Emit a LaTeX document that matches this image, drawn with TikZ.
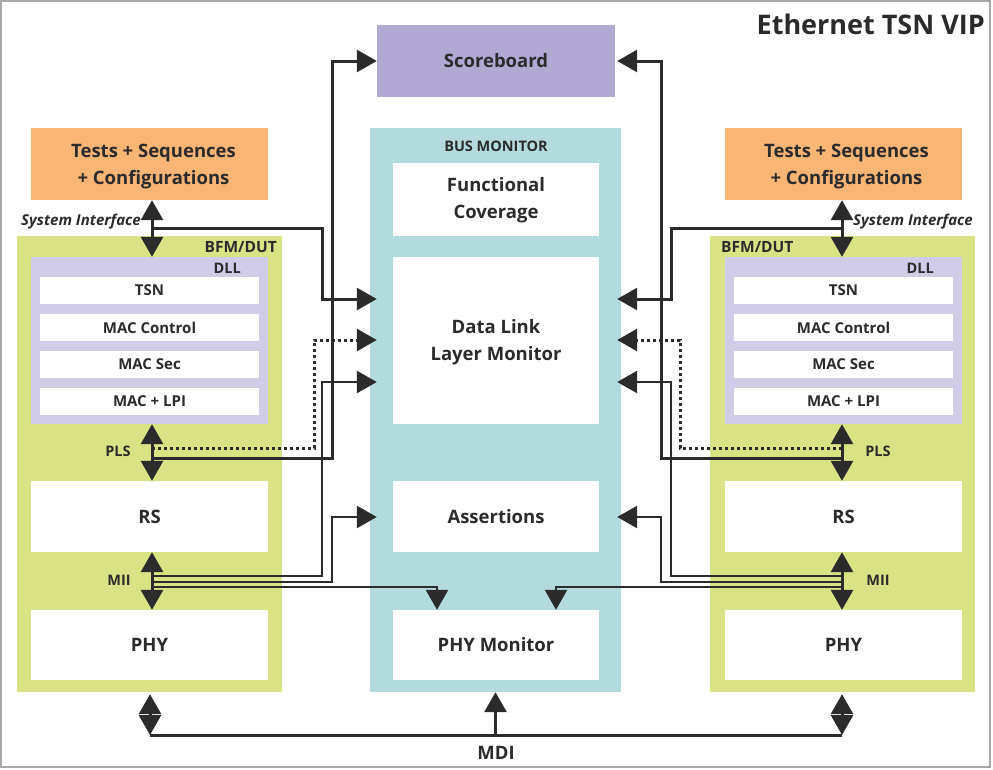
\documentclass[tikz,border=0pt]{standalone}
\usepackage{fontspec}
\setmainfont{Open Sans}
\usetikzlibrary{arrows.meta,calc}
\definecolor{ink}{HTML}{2B2B2B}
\definecolor{orng}{HTML}{F8B576}
\definecolor{sbcol}{HTML}{B1A9D4}
\definecolor{bmcol}{HTML}{B3DBDE}
\definecolor{grn}{HTML}{D9E285}
\definecolor{dllcol}{HTML}{D0CCE7}
\definecolor{framecol}{HTML}{A8A8A8}
\tikzset{
  box/.style={inner sep=0pt, draw=none, text=ink, align=center},
  ftitle/.style={font=\fontsize{27}{32}\selectfont\bfseries},
  fbig/.style={font=\fontsize{18.5}{27}\selectfont\bfseries},
  fmid/.style={font=\fontsize{18.5}{27}\selectfont\bfseries},
  fsmall/.style={font=\fontsize{15}{18}\selectfont\bfseries},
  flab/.style={font=\fontsize{14.5}{17}\selectfont\bfseries, text=ink, inner sep=0pt},
  fbfm/.style={font=\fontsize{15.5}{18}\selectfont\bfseries, text=ink, inner sep=0pt},
  fital/.style={font=\fontsize{15}{18}\selectfont\bfseries\itshape, text=ink, inner sep=0pt},
  tip/.tip={Triangle[length=20pt,width=22pt]},
  conn/.style={draw=ink, line width=3pt, -tip},
  conn2/.style={draw=ink, line width=2.6pt, -tip},
  dblarr/.style={draw=ink, line width=3pt, tip-tip},
  dotconn/.style={draw=ink, line width=3pt, dash pattern=on 3pt off 3pt, -tip},
  plain/.style={draw=ink, line width=3pt}
}
\begin{document}
\begin{tikzpicture}[x=1pt,y=-1pt]
\useasboundingbox (0,0) rectangle (993,769);
\fill[white] (0,0) rectangle (993,769);
\draw[framecol, line width=1.5pt] (1,1) rectangle (990,767);

\node[box, ftitle, anchor=east] (title) at (985,24) {Ethernet TSN VIP};

% center
\node[box, fill=sbcol, minimum width=238pt, minimum height=72pt, fbig] (sb) at (496,61) {Scoreboard};
\node[box, fill=bmcol, minimum width=251pt, minimum height=564pt] (bm) at (495.5,410) {};
\node[box, font=\fontsize{14.5}{17}\selectfont\bfseries] (bmlab) at (496,146) {BUS MONITOR};
\node[box, fill=white, minimum width=206pt, minimum height=73pt] (fc) at (496,199.5) {};
\node[box, fbig] (fct) at ([yshift=-1pt]fc.center) {Functional\\Coverage};
\node[box, fill=white, minimum width=206pt, minimum height=167pt] (dlm) at (496,340.5) {};
\node[box, fbig] (dlmt) at ([yshift=-2pt]dlm.center) {Data Link\\Layer Monitor};
\node[box, fill=white, minimum width=206pt, minimum height=71pt, fbig] (asr) at (496,516.5) {Assertions};
\node[box, fill=white, minimum width=206pt, minimum height=70pt, fbig] (phm) at (496,645) {PHY Monitor};

% left
\node[box, fill=orng, minimum width=237pt, minimum height=72pt] (tL) at (149.5,164) {};
\node[box, fmid] (tLt) at ([xshift=4pt,yshift=-3pt]tL.center) {Tests + Sequences\\+ Configurations};
\node[box, fill=grn, minimum width=265pt, minimum height=456pt] (bfmL) at (149.5,464) {};
\node[box, fill=dllcol, minimum width=237pt, minimum height=167pt] (dllL) at (149.5,340.5) {};
\node[box, fill=white, minimum width=219pt, minimum height=27pt, fsmall] (tsnL) at (149.5,290.5) {TSN};
\node[box, fill=white, minimum width=219pt, minimum height=27pt, fsmall] (mcL) at (149.5,327.5) {MAC Control};
\node[box, fill=white, minimum width=219pt, minimum height=27pt, fsmall] (msL) at (149.5,364.5) {MAC Sec};
\node[box, fill=white, minimum width=219pt, minimum height=27pt, fsmall] (mlL) at (149.5,401.5) {MAC + LPI};
\node[box, fill=white, minimum width=237pt, minimum height=71pt, fbig] (rsL) at (149.5,516.5) {RS};
\node[box, fill=white, minimum width=237pt, minimum height=70pt, fbig] (phyL) at (149.5,645) {PHY};
\node[fbfm, anchor=east] (bfmlabL) at (277,247) {BFM/DUT};
\node[flab, anchor=east] (dlllabL) at (241,268) {DLL};
\node[fital, anchor=east] (siL) at (141,222) {System Interface};
\node[flab] (plsL) at (118,451) {PLS};
\node[flab] (miiL) at (119,580) {MII};

% right
\node[box, fill=orng, minimum width=237pt, minimum height=72pt] (tR) at (843.5,164) {};
\node[box, fmid] (tRt) at ([xshift=3pt,yshift=-3pt]tR.center) {Tests + Sequences\\+ Configurations};
\node[box, fill=grn, minimum width=265pt, minimum height=456pt] (bfmR) at (842.5,464) {};
\node[box, fill=dllcol, minimum width=237pt, minimum height=167pt] (dllR) at (843.5,340.5) {};
\node[box, fill=white, minimum width=219pt, minimum height=27pt, fsmall] (tsnR) at (843.5,290.5) {TSN};
\node[box, fill=white, minimum width=219pt, minimum height=27pt, fsmall] (mcR) at (843.5,327.5) {MAC Control};
\node[box, fill=white, minimum width=219pt, minimum height=27pt, fsmall] (msR) at (843.5,364.5) {MAC Sec};
\node[box, fill=white, minimum width=219pt, minimum height=27pt, fsmall] (mlR) at (843.5,401.5) {MAC + LPI};
\node[box, fill=white, minimum width=237pt, minimum height=71pt, fbig] (rsR) at (843.5,516.5) {RS};
\node[box, fill=white, minimum width=237pt, minimum height=70pt, fbig] (phyR) at (843.5,645) {PHY};
\node[fbfm, anchor=west] (bfmlabR) at (721,247) {BFM/DUT};
\node[flab, anchor=east] (dlllabR) at (934,268) {DLL};
\node[fital, anchor=west] (siR) at (853,222) {System Interface};
\node[flab] (plsR) at (878,451) {PLS};
\node[flab] (miiR) at (878,580) {MII};

\node[box, font=\fontsize{18.5}{22}\selectfont\bfseries] (mdi) at (496,753) {MDI};

% helper coordinates
\coordinate (axL) at (152,0);
\coordinate (axR) at (842,0);
\coordinate (bmWi) at ([xshift=7pt]bm.west);
\coordinate (bmEi) at ([xshift=-4pt]bm.east);
\coordinate (mdiL) at (150,735);
\coordinate (mdiR) at (842,735);
\coordinate (sysL) at ($(tL.south -| axL)!0.5!(dllL.north -| axL)$);
\coordinate (sysR) at ($(tR.south -| axR)!0.5!(dllR.north -| axR)$);
\coordinate (p3L) at (437,0);
\coordinate (p3R) at (556,0);

% left connectors
\draw[conn] (sysL) -| (322,299) -- (bmWi |- 0,299);
\draw[conn] (axL |- 0,458) -| (332,61) -- (sb.west);
\draw[dotconn] (axL |- 0,448) -| (314,340) -- (bmWi |- 0,340);
\draw[conn2] (axL |- 0,576) -| (322,382) -- (bmWi |- 0,382);
\draw[conn2] (axL |- 0,582) -| (332,517) -- (bmWi |- 0,517);
\draw[conn2] (axL |- 0,587) -| (p3L |- phm.north);

% right connectors
\draw[conn] (sysR) -| (671,299) -- (bmEi |- 0,299);
\draw[conn] (axR |- 0,458) -| (661,61) -- ([xshift=2pt]sb.east);
\draw[dotconn] (axR |- 0,448) -| (680,340) -- (bmEi |- 0,340);
\draw[conn2] (axR |- 0,576) -| (671,382) -- (bmEi |- 0,382);
\draw[conn2] (axR |- 0,582) -| (661,517) -- (bmEi |- 0,517);
\draw[conn2] (axR |- 0,587) -| (p3R |- phm.north);

% double arrows
\draw[dblarr] (tL.south -| axL) -- (dllL.north -| axL);
\draw[dblarr] (dllL.south -| axL) -- (rsL.north -| axL);
\draw[dblarr] (rsL.south -| axL) -- (phyL.north -| axL);
\draw[dblarr] (tR.south -| axR) -- (dllR.north -| axR);
\draw[dblarr] (dllR.south -| axR) -- (rsR.north -| axR);
\draw[dblarr] (rsR.south -| axR) -- (phyR.north -| axR);

% MDI
\draw[plain] (mdiL) -- (mdiR);
\draw[dblarr] ([yshift=-2pt]bfmL.south -| mdiL) -- (mdiL);
\draw[dblarr] ([yshift=-2pt]bfmR.south -| mdiR) -- (mdiR);
\draw[conn] (bm.south |- mdiL) -- (bm.south);
\end{tikzpicture}
\end{document}
